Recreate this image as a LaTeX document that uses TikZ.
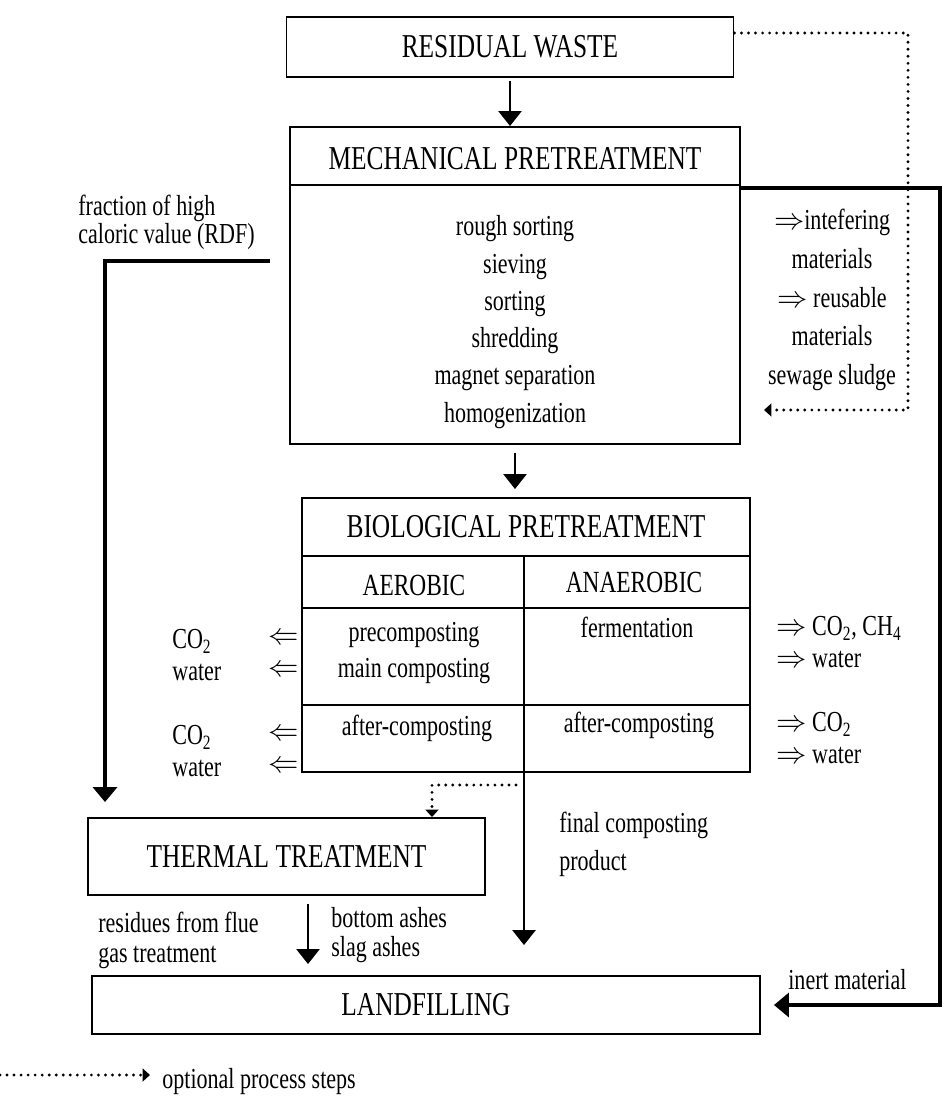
\documentclass[tikz,border=0pt]{standalone}
\usepackage{fontspec}
\setmainfont{Liberation Serif}[FakeStretch=0.76]
\usetikzlibrary{arrows.meta,calc}
\tikzset{
  box/.style={draw,line width=1.1pt,inner sep=0pt},
  headtxt/.style={font=\fontsize{19}{22}\selectfont},
  subtxt/.style={font=\fontsize{17.5}{20}\selectfont,inner sep=0pt},
  txt/.style={font=\fontsize{16.5}{#1}\selectfont,inner sep=0pt},
  txt/.default=14,
  flow/.style={line width=1.6pt,-{Triangle[length=3mm,width=4.6mm]}},
  heavy/.style={line width=2.6pt,-{Triangle[length=3mm,width=4.8mm]}},
  opt/.style={line width=1.8pt,line cap=round,dash pattern=on 0pt off 4pt,-{Triangle[length=1.5mm,width=2.6mm]}}
}
\begin{document}
\begin{tikzpicture}[x=0.2mm,y=-0.2mm]
\useasboundingbox (0,0) rectangle (947,1096);

\node[box,headtxt,minimum width=89.4mm,minimum height=12mm] (residual) at (510,47) {RESIDUAL WASTE};

\node[box,minimum width=90mm,minimum height=63.4mm] (mech) at (515,285.5) {};
\node[headtxt] (mechhead) at (515,159) {MECHANICAL PRETREATMENT};
\draw[line width=1.1pt] (mech.west |- 0,185) -- (mech.east |- 0,185);
\node[txt=21.2,align=center] (mechsteps) at (515,322) {rough sorting\\sieving\\sorting\\shredding\\magnet separation\\homogenization};
\node[txt=22,align=center] (removed) at (832,300) {$\Rightarrow$intefering\\materials\\$\Rightarrow$ reusable\\materials\\sewage sludge};
\node[txt,align=left,anchor=west] (rdftxt) at (78,222) {fraction of high\\caloric value (RDF)};

\node[box,minimum width=89.6mm,minimum height=54.8mm] (bio) at (526,635) {};
\node[headtxt] (biohead) at (526,527) {BIOLOGICAL PRETREATMENT};
\draw[line width=1.1pt] (bio.west |- 0,556) -- (bio.east |- 0,556)
  (bio.west |- 0,608) -- (bio.east |- 0,608)
  (bio.west |- 0,705) -- (bio.east |- 0,705)
  (524,556) -- (524,556 |- bio.south);
\node[subtxt] (aerobic) at (414,585) {AEROBIC};
\node[subtxt] (anaerobic) at (634,582) {ANAEROBIC};
\node[txt=21,align=center] (aersteps) at (414,653) {precomposting\\main composting};
\node[txt] (ferm) at (637,627) {fermentation};
\node[txt] (aerafter) at (417,728) {after-composting};
\node[txt] (anaafter) at (639,725) {after-composting};

\node[txt=18,align=left,anchor=west] (gasA) at (172,655) {CO\textsubscript{2}\\water};
\node[txt=18,align=center] (outA) at (284,655) {$\Leftarrow$\\$\Leftarrow$};
\node[txt=18,align=left,anchor=west] (gasB) at (172,751) {CO\textsubscript{2}\\water};
\node[txt=18,align=center] (outB) at (284,751) {$\Leftarrow$\\$\Leftarrow$};
\node[txt=18,align=left,anchor=west] (gasC) at (776,642) {$\Rightarrow$ CO\textsubscript{2}, CH\textsubscript{4}\\$\Rightarrow$ water};
\node[txt=18,align=left,anchor=west] (gasD) at (776,738) {$\Rightarrow$ CO\textsubscript{2}\\$\Rightarrow$ water};

\node[box,headtxt,minimum width=79.4mm,minimum height=15.4mm] (thermal) at (286.5,856.5) {THERMAL TREATMENT};
\node[box,headtxt,minimum width=133.6mm,minimum height=11.6mm] (landfill) at (426,1005) {LANDFILLING};

\node[txt=21.6,align=left,anchor=west] (product) at (559,844) {final composting\\product};
\node[txt=17,align=left,anchor=west] (flue) at (98,940) {residues from flue\\gas treatment};
\node[txt=17,align=left,anchor=west] (ashes) at (331,935) {bottom ashes\\slag ashes};
\node[txt,anchor=west] (inert) at (788,980) {inert material};

\draw[flow,shorten <=0.6mm] (residual) -- (residual |- mech.north);
\draw[flow,shorten <=1.6mm,shorten >=1.6mm] (mech.south) -- (mech.south |- bio.north);

\coordinate (rdfstart) at (270,261);
\draw[heavy,shorten >=3mm] (rdfstart) -- (105,261) -- (105,261 |- thermal.north);
\draw[heavy,shorten >=2.6mm] (mech.east |- 0,188) -- (940,188) |- (landfill.east);

\draw[opt] ($(residual.east)+(0,-14)$) -| (908,410) -- ($(mech.east |- 0,410)+(23,0)$);

\coordinate (optsplit) at (516,785);
\draw[opt] (optsplit) -| (432,785 |- thermal.north);
\draw[flow,shorten >=6mm] (524,556 |- bio.south) -- (524,556 |- landfill.north);
\draw[flow,shorten <=1.6mm,shorten >=2.2mm] (308,0 |- thermal.south) -- (308,0 |- landfill.north);

\coordinate (legA) at (0,1075);
\coordinate (legB) at (150,1075);
\draw[opt] (legA) -- (legB);
\node[txt,anchor=west] (legtxt) at (162,1082) {optional process steps};
\end{tikzpicture}
\end{document}
